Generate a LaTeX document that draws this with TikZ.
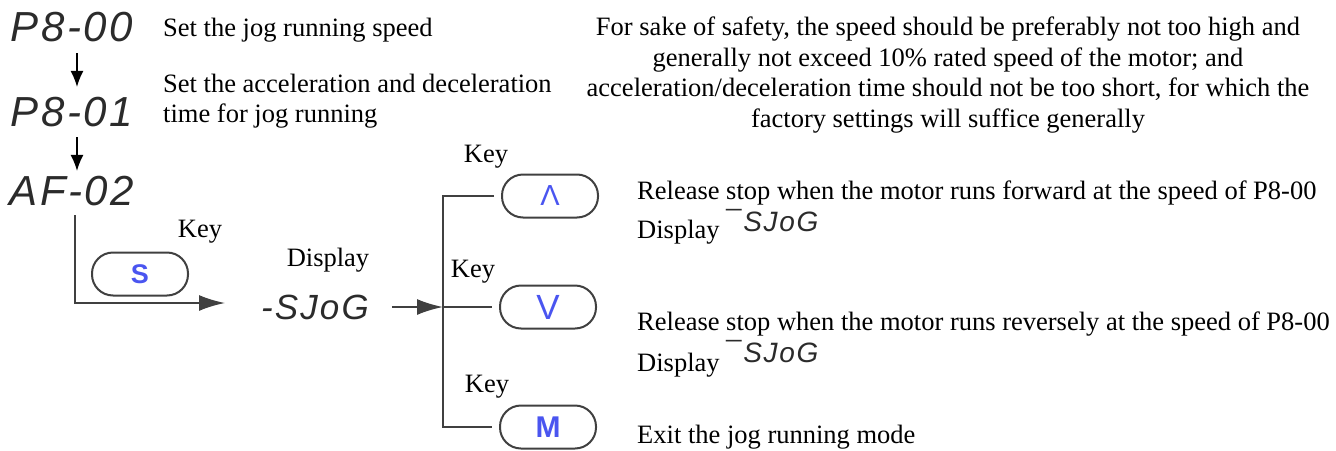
\documentclass[tikz,border=0pt]{standalone}
\usepackage{fontspec}
\setmainfont{Liberation Serif}
\setsansfont{Liberation Sans}
\newfontfamily\segfont[LetterSpace=6]{Liberation Sans}
\usetikzlibrary{arrows.meta,positioning}
\definecolor{jgline}{HTML}{404040}
\definecolor{jgseg}{HTML}{2B2B2B}
\definecolor{jgblue}{HTML}{4A55F0}

\begin{document}
\begin{tikzpicture}[x=1pt, y=-1pt,
    every node/.style={font=\fontsize{26.5}{30.5}\selectfont, inner sep=0pt},
    seg/.style={font=\segfont\itshape\fontsize{#1}{#1}\selectfont, text=jgseg},
    seg/.default=42,
    txt/.style={anchor=west, align=left},
    keybtn/.style={draw=jgline, line width=2pt, rounded corners=21pt, minimum width=96pt, minimum height=43pt, text=jgblue, font=\sffamily\fontsize{#1}{#1}\selectfont},
    keybtn/.default=28,
    keybold/.style={keybtn, font=\sffamily\bfseries\fontsize{#1}{#1}\selectfont},
    wire/.style={draw=jgline, line width=2pt},
    bigarr/.style={-{Latex[length=26pt,width=16pt]}},
    smallarr/.style={-{Latex[length=16pt,width=13pt]}, line width=1.5pt}]
  \useasboundingbox (0,0) rectangle (1336,450);
  \node[seg] (p800) at (72,27) {P8-00};
  \node[seg] (p801) at (72,112) {P8-01};
  \node[seg] (af02) at (72,191) {AF-02};
  \node[txt] (setspeed) at (163,30) {Set the jog running speed};
  \node[txt] (setacc) at (163,101) {Set the acceleration and deceleration\\time for jog running};
  \node[align=center] (note) at (948,75) {For sake of safety, the speed should be preferably not too high and\\generally not exceed 10\% rated speed of the motor; and\\acceleration/deceleration time should not be too short, for which the\\factory settings will suffice generally};
  \draw[smallarr] ([xshift=5pt]p800.south) ++(0,11) -- ([xshift=5pt,yshift=10pt]p801.north);
  \draw[smallarr] ([xshift=5pt]p801.south) ++(0,10) -- ([xshift=5pt,yshift=5pt]af02.north);

  \node[keybold=27] (keys) at (140,274) {S};
  \node (keyslbl) at (200,232) {Key};
  \node (displbl) at (328,260) {Display};
  \node[seg=35] (jog) at (315,307) {-SJoG};
  \draw[wire, bigarr] ([xshift=3pt]af02.south) ++(0,9) |- ([xshift=-36pt,yshift=4pt]jog.west);
  \coordinate (bus) at (443,307);
  \draw[wire, bigarr] ([xshift=23pt]jog.east) -- (bus);

  \node[keybtn=29] (kup) at (550,196) {Λ};
  \node[keybtn=35] (kdown) at (548,307) {V};
  \node[keybold=30] (kmode) at (548,427) {M};
  \node (kuplbl) at (486,157) {Key};
  \node (kdownlbl) at (473,272) {Key};
  \node (kmodelbl) at (487,387) {Key};
  \draw[wire] ([xshift=-7pt]kup.west) -| (bus) |- ([xshift=-7pt]kmode.west);
  \draw[wire] (bus) -- ([xshift=-7pt]kdown.west);

  \node[txt] (fwd) at (637,193) {Release stop when the motor runs forward at the speed of P8-00};
  \node[txt] (fwddisp) at (637,232) {Display};
  \node[seg=28, anchor=west] (fwdjog) at (726,221) {¯SJoG};
  \node[txt] (rev) at (637,324) {Release stop when the motor runs reversely at the speed of P8-00};
  \node[txt] (revdisp) at (637,365) {Display};
  \node[seg=28, anchor=west] (revjog) at (726,352) {¯SJoG};
  \node[txt] (exit) at (637,437) {Exit the jog running mode};
\end{tikzpicture}
\end{document}
